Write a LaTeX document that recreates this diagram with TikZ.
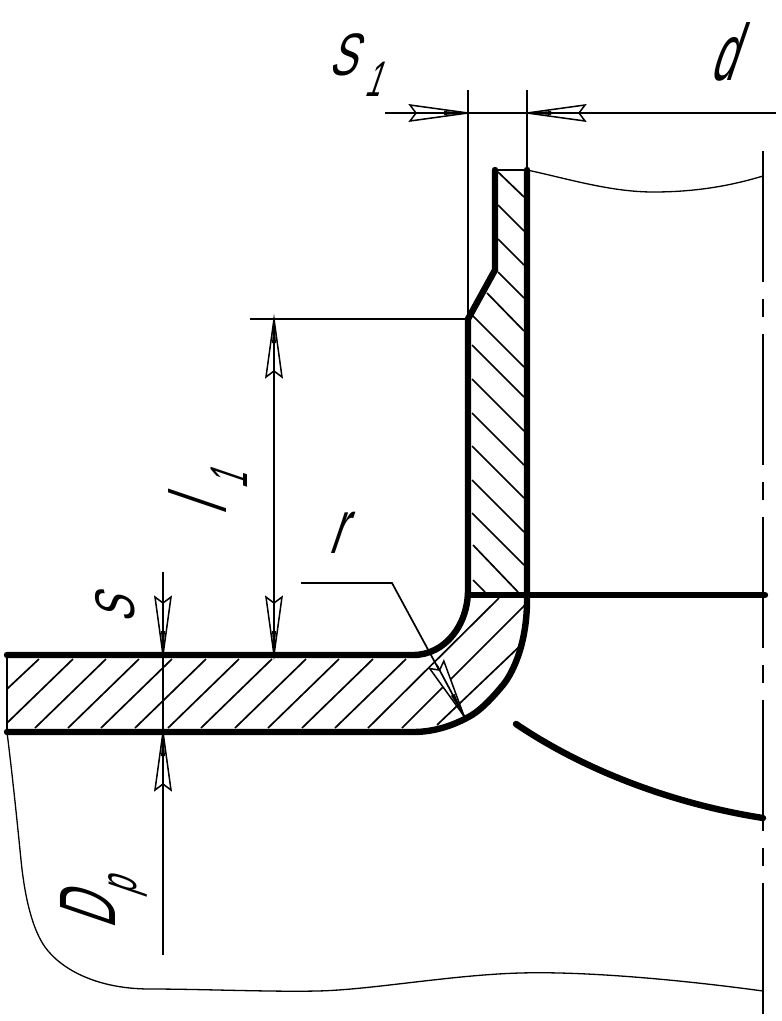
\documentclass[tikz,border=0pt]{standalone}
\usepackage{fontspec}
\setmainfont{Liberation Sans}
\tikzset{x=1pt,y=-1pt,
 thin line/.style={draw,line width=1.7pt},
 break line/.style={draw,line width=1.3pt},
 thick line/.style={draw,line width=6.4pt,line cap=round,line join=round},
 hatch line/.style={draw,line width=1.7pt},
 open tip/.style={draw,fill=white,line width=1.5pt,line join=miter},
 gost label/.style={inner sep=0pt,xslant=.34,xscale=.55,font=\fontsize{#1}{#1}\selectfont},
 }
\newcommand{\opentip}[2]{% tip at #1, pointing along direction angle #2
 \path[open tip,shift={#1},rotate=#2]
   (0,0) -- (-58,-8) -- (-52,0) -- (-58,8) -- cycle;
 \draw[thin line,shift={#1},rotate=#2] (0,0) -- (-58,0);
 \fill[shift={#1},rotate=#2] (0,0) -- (-24,-2) -- (-24,2) -- cycle;
}
\begin{document}
\begin{tikzpicture}
 \useasboundingbox (0,0) rectangle (782,1021);
 \fill[white] (0,0) rectangle (782,1021);
 % named points of the section
 \coordinate (topl) at (495,170);
 \coordinate (topr) at (527,170);
 \coordinate (kneea) at (495,270);
 \coordinate (kneeb) at (468,319);
 \coordinate (innerv) at (468,590);
 \coordinate (innerh) at (413,655);
 \coordinate (leftu) at (7,655);
 \coordinate (leftd) at (7,732);
 \coordinate (lowh) at (413,732);
 \coordinate (outerv) at (527,600);
 \coordinate (crossl) at (468,595);
 \coordinate (crossr) at (765,595);
 \coordinate (cutl) at (516,724);
 \coordinate (cutr) at (763,818);
 % hatching of the upright part
 \draw[hatch line] (498,172) -- (524,197);
 \draw[hatch line] (498,205) -- (524,231);
 \draw[hatch line] (498,239) -- (524,265);
 \draw[hatch line] (498,272) -- (524,298);
 \draw[hatch line] (487,293) -- (524,331);
 \foreach \y in {315,345,379,413,446,480,513}
   {\draw[hatch line] (472,\y) -- ++(52,52);}
 \draw[hatch line] (473,545) -- (518,592);
 \draw[hatch line] (473,580) -- (485,592);
 % hatching of the flange
 \draw[hatch line] (7,689) -- (39,659);
 \draw[hatch line] (7,723) -- (73,659);
 \foreach \x in {35,68,101,135,168,201,235,268,302,335}
   {\draw[hatch line] (\x,728) -- ++(71,-69);}
 \draw[hatch line] (368,728) -- (499,598);
 \draw[hatch line] (402,728) -- (525,605);
 \draw[hatch line] (437,725) -- (521,645);
 % section outline
 \draw[thick line] (topl) -- (kneea) -- (kneeb) -- (innerv)
   .. controls (468,625) and (445,655) .. (innerh) -- (leftu);
 \draw[thick line] (topr) -- (outerv) .. controls (527,640) and (515,670) .. (503,685)
   .. controls (493,697) and (483,708) .. (472,715)
   .. controls (455,725) and (435,732) .. (lowh) -- (leftd);
 \draw[thick line] (crossl) -- (crossr);
 \draw[thick line] (cutl) .. controls (590,774) and (680,805) .. (cutr);
 \draw[hatch line] (topl) -- (topr);
 \draw[hatch line] (leftu) -- (leftd);
 % break lines
 \draw[break line] (topr) .. controls (565,178) and (610,192) .. (653,192) .. controls (695,192) and (730,186) .. (763,176);
 \draw[break line] (leftd) .. controls (13,780) and (18,830) .. (21,860)
   .. controls (25,900) and (33,930) .. (45,947)
   .. controls (60,968) and (95,989) .. (150,989)
   .. controls (200,989) and (270,992) .. (317,991)
   .. controls (370,990) and (450,975) .. (520,973)
   .. controls (590,971) and (690,981) .. (763,991);
 % centre line
 \draw[thin line,dash pattern=on 131pt off 17pt on 18pt off 17pt] (763,151) -- (763,1014);
 % dimension lines
 \draw[thin line] (468,90) -- (468,319);
 \draw[thin line] (527,90) -- (527,170);
 \draw[thin line] (385,113) -- (776,113);
 \draw[thin line] (250,319) -- (468,319);
 \draw[thin line] (274,319) -- (274,655);
 \draw[thin line] (163,572) -- (163,955);
 \draw[thin line] (301,583) -- (392,583) -- (464,716);
 \opentip{(468,113)}{0}
 \opentip{(527,113)}{180}
 \opentip{(274,319)}{90}
 \opentip{(274,655)}{-90}
 \opentip{(163,655)}{-90}
 \opentip{(163,732)}{90}
 \opentip{(464,716)}{-62}
 % labels
 \node[gost label=60,xscale=1.25] (s1) at (349,55) {S};
 \node[gost label=50] (s1sub) at (378,79) {1};
 \node[gost label=80] (dlab) at (731,52) {d};
 \node[rotate=90,gost label=80] (l1) at (198,501) {l};
 \node[rotate=90,gost label=53] (l1sub) at (229,475) {1};
 \node[gost label=77] (rlab) at (343,533) {r};
 \node[rotate=90,gost label=56,xscale=1.25] (slab) at (115,604) {S};
 \node[rotate=90,gost label=80] (dp) at (88,904) {D};
 \node[rotate=90,gost label=52] (dpsub) at (128,885) {p};
\end{tikzpicture}
\end{document}
